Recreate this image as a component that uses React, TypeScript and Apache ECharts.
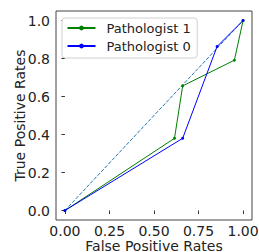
import React, { useEffect, useRef } from "react";
import * as echarts from "echarts";

const pathologist1: [number, number][] = [
  [0, 0],
  [0.615, 0.38],
  [0.661, 0.656],
  [0.951, 0.791],
  [1, 1],
];
const pathologist0: [number, number][] = [
  [0, 0],
  [0.661, 0.38],
  [0.854, 0.863],
  [1, 1],
];
const diagonal: [number, number][] = [
  [0, 0],
  [1, 1],
];
const xTicks = [0, 0.25, 0.5, 0.75, 1.0];
const yTicks = [0, 0.2, 0.4, 0.6, 0.8, 1.0];

export default function App() {
  const ref = useRef<HTMLDivElement>(null);
  useEffect(() => {
    if (!ref.current) return;
    const chart = echarts.init(ref.current, null, { renderer: "svg" });
    const font = "DejaVu Sans";
    const axisCommon = {
      type: "value" as const,
      splitLine: { show: false },
      axisLine: { show: false },
      axisTick: { show: true, length: 3.5, lineStyle: { color: "#333", width: 1 } },
      nameLocation: "middle" as const,
      nameMoveOverlap: false,
      nameTextStyle: { fontFamily: font, fontSize: 14, color: "#222" },
    };
    chart.setOption({
      animation: false,
      textStyle: { fontFamily: font },
      grid: {
        left: 56,
        top: 11,
        width: 196,
        height: 209,
        containLabel: false,
        outerBoundsMode: "none",
        show: true,
        borderColor: "#444",
        borderWidth: 1,
        backgroundColor: "transparent",
      },
      xAxis: {
        ...axisCommon,
        min: -0.05,
        max: 1.05,
        name: "False Positive Rates",
        nameGap: 19,
        axisTick: { ...axisCommon.axisTick, customValues: xTicks },
        axisLabel: {
          customValues: xTicks,
          fontFamily: font,
          fontSize: 14,
          color: "#222",
          margin: 4,
          formatter: (v: number) => v.toFixed(2),
        },
      },
      yAxis: {
        ...axisCommon,
        min: -0.05,
        max: 1.05,
        name: "True Positive Rates",
        nameGap: 29,
        axisTick: { ...axisCommon.axisTick, customValues: yTicks },
        axisLabel: {
          customValues: yTicks,
          fontFamily: font,
          fontSize: 14,
          color: "#222",
          margin: 6,
          formatter: (v: number) => v.toFixed(1),
        },
      },
      legend: {
        left: 62,
        top: 18,
        orient: "vertical",
        itemWidth: 28,
        itemHeight: 6,
        itemGap: 5,
        padding: [3.5, 6.5, 5.5, 4.5],
        borderColor: "#d0d0d0",
        borderWidth: 1,
        borderRadius: 3,
        backgroundColor: "#fff",
        textStyle: { fontFamily: font, fontSize: 13, color: "#222", padding: [0, 0, 0, 6] },
        data: ["Pathologist 1", "Pathologist 0"],
      },
      series: [
        {
          name: "diag",
          type: "line",
          data: diagonal,
          symbol: "none",
          lineStyle: { color: "#1f77b4", width: 1, type: [3.7, 1.6] },
          silent: true,
        },
        {
          name: "Pathologist 1",
          type: "line",
          data: pathologist1,
          symbol: "circle",
          symbolSize: 3,
          color: "#008000",
          itemStyle: { color: "#008000" },
          lineStyle: { color: "#008000", width: 1 },
        },
        {
          name: "Pathologist 0",
          type: "line",
          data: pathologist0,
          symbol: "circle",
          symbolSize: 3,
          color: "#0000ff",
          itemStyle: { color: "#0000ff" },
          lineStyle: { color: "#0000ff", width: 1 },
        },
      ],
    });
    return () => chart.dispose();
  }, []);
  return <div ref={ref} style={{ width: 259, height: 252, position: "absolute", left: 0, top: 0 }} />;
}
